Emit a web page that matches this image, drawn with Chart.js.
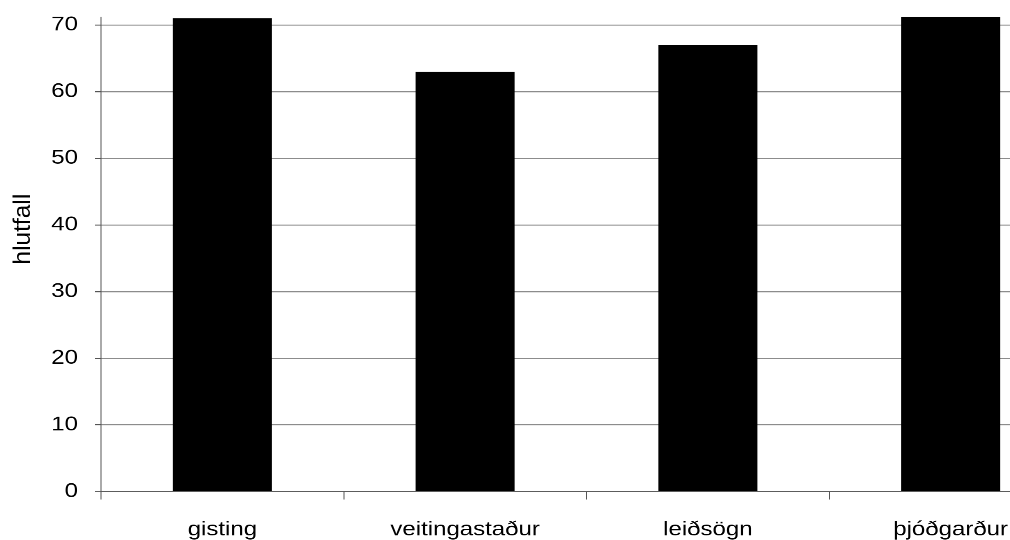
<!DOCTYPE html>
<html>
<head>
<meta charset="utf-8">
<script src="https://cdn.jsdelivr.net/npm/chart.js@4/dist/chart.umd.min.js"></script>
<style>
    html, body { margin: 0; padding: 0; background: #fff; overflow: hidden; }
    /* the reference looks squashed vertically, so the chart is drawn taller and squashed the same way */
    #wrap { width: 1084px; height: 648px; transform: scaleY(0.8333); transform-origin: 0 0; }
</style>
</head>
<body>
<div id="wrap"><canvas id="barChart" width="1084" height="648"></canvas></div>
<script>
// categories and values
const categories = ['gisting', 'veitingastaður', 'leiðsögn', 'þjóðgarður'];
const shares = [71, 63, 67, 71.2];
const yTicks = [0, 10, 20, 30, 40, 50, 60, 70];
const yTitle = 'hlutfall';

const FONT = 'Liberation Sans';

// y axis title: in the reference it is not squashed, so undo the squash along its length
const yTitlePlugin = {
    id: 'yTitle',
    afterDraw(chart) {
        const c = chart.ctx;
        c.save();
        c.translate(30, 275);
        c.rotate(-Math.PI / 2);
        c.scale(1.2, 1);
        c.font = '24.5px "' + FONT + '"';
        c.fillStyle = '#000';
        c.textAlign = 'center';
        c.textBaseline = 'alphabetic';
        c.fillText(yTitle, 0, 0);
        c.restore();
    }
};

const ctx = document.getElementById('barChart').getContext('2d');

new Chart(ctx, {
    type: 'bar',
    data: {
        labels: categories,
        datasets: [{
            label: yTitle,
            data: shares,
            backgroundColor: '#000',
            borderWidth: 0,
            barPercentage: 0.408,
            categoryPercentage: 1
        }]
    },
    options: {
        responsive: false,
        animation: false,
        devicePixelRatio: 2,
        layout: { padding: { top: 20.4, right: 12, left: 0, bottom: 0 } },
        plugins: {
            legend: { display: false },
            tooltip: { enabled: false }
        },
        scales: {
            x: {
                grid: {
                    offset: true,
                    drawOnChartArea: false,
                    drawTicks: true,
                    tickLength: 9.6,
                    tickColor: '#555'
                },
                border: { color: '#555', width: 1.2 },
                ticks: {
                    color: '#000',
                    padding: 22,
                    maxRotation: 0,
                    autoSkip: false,
                    font: { family: FONT, size: 24 }
                },
                afterFit: scale => {
                    scale.height = 58.2;
                    scale.paddingLeft = 0;
                    scale.paddingRight = 0;
                }
            },
            y: {
                min: 0,
                max: 71.2,
                ticks: {
                    stepSize: 10,
                    color: '#000',
                    padding: 17,
                    font: { family: FONT, size: 24 }
                },
                afterBuildTicks: scale => {
                    scale.ticks = yTicks.map(v => ({ value: v }));
                },
                grid: {
                    color: '#8c8c8c',
                    lineWidth: 1.2,
                    tickColor: '#555',
                    tickLength: 6
                },
                border: { color: '#555' },
                afterFit: scale => {
                    scale.width = 101;
                    scale.paddingTop = 0;
                    scale.paddingBottom = 0;
                }
            }
        }
    },
    plugins: [yTitlePlugin]
});
</script>
</body>
</html>
